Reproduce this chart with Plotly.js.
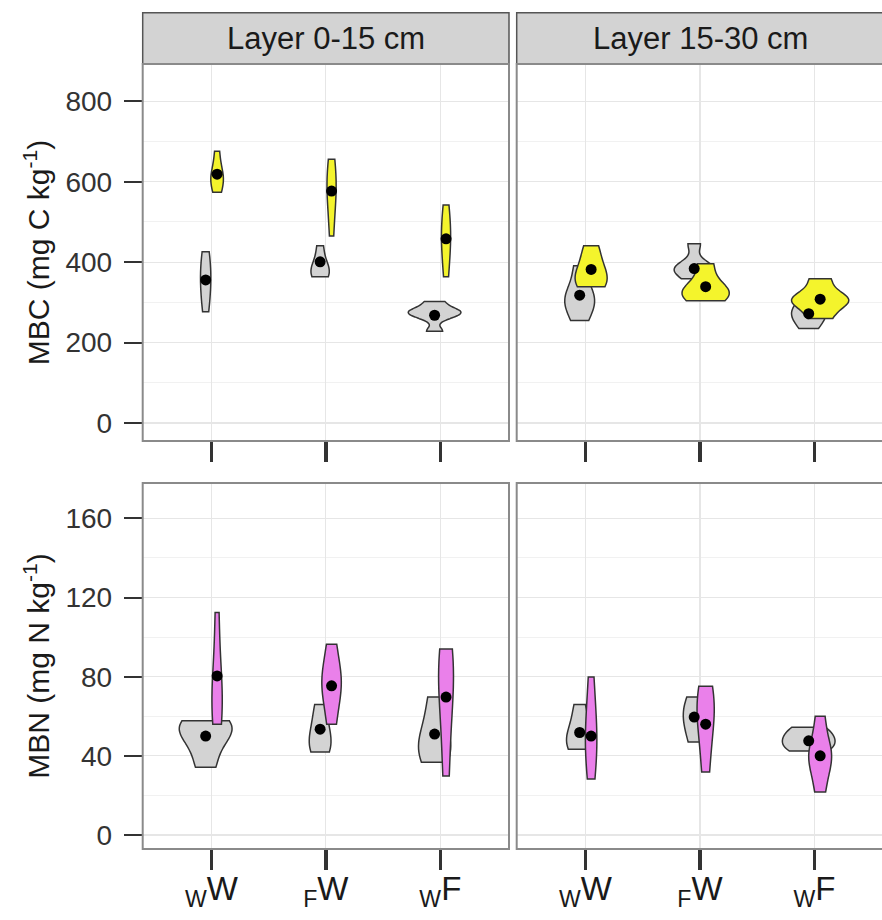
<!DOCTYPE html>
<html><head><meta charset="utf-8">
<script src="https://cdn.plot.ly/plotly-3.0.1.min.js"></script>
<style>html,body{margin:0;padding:0;background:#fff}#chart{width:882px;height:920px}</style>
</head><body><div id="chart"></div>
<script>
// ---- data ----
const categories = ['wW', 'FW', 'wF'];
const tickLabels = ['<sub>W</sub>W', '<sub>F</sub>W', '<sub>W</sub>F'];
const layers = ['Layer 0-15 cm', 'Layer 15-30 cm'];
const mbcTicks = [0, 200, 400, 600, 800];
const mbnTicks = [0, 40, 80, 120, 160];

// MBC (mg C kg-1) observations, per category (wW, FW, wF)
const mbcL1Grey   = [[277, 325, 355, 390, 426], [364, 370, 380, 400, 441], [228, 262, 272, 277, 282, 302]];
const mbcL1Yellow = [[574, 598, 612, 628, 676], [465, 545, 580, 612, 656], [364, 425, 462, 490, 542]];
const mbcL2Grey   = [[255, 296, 306, 330, 391], [359, 378, 386, 392, 446], [235, 258, 270, 284, 302]];
const mbcL2Yellow = [[339, 352, 365, 400, 441], [304, 318, 326, 346, 396], [260, 298, 306, 314, 359]];
// MBN (mg N kg-1) observations
const mbnL1Grey    = [[34.2, 46, 53.5, 55.5, 57.7], [42, 45, 49, 57, 66], [36.8, 42, 46, 55, 69.7]];
const mbnL1Magenta = [[56, 63, 71, 84, 112.5], [56, 71, 77, 82, 96.4], [29.8, 58, 78, 85, 94]];
const mbnL2Grey    = [[43.4, 46, 49, 56, 66], [47, 55, 59.5, 64, 69.7], [42.4, 45, 48, 51, 54.5]];
const mbnL2Magenta = [[28.3, 42, 50, 60, 79.8], [31.8, 50, 61, 68, 75.2], [21.7, 36, 40, 44, 60]];

// means (black dots)
const mbcL1GreyMean = [356, 401, 268];
const mbcL1YellowMean = [619, 577, 458];
const mbcL2GreyMean = [318, 384, 272];
const mbcL2YellowMean = [382, 339, 308];
const mbnL1GreyMean = [50, 53.5, 51];
const mbnL1MagentaMean = [80.4, 75.4, 69.7];
const mbnL2GreyMean = [51.8, 59.6, 47.6];
const mbnL2MagentaMean = [50, 56, 40];

// ---- styles ----
const GREY = '#d3d3d3', YELLOW = '#f4f42c', MAGENTA = '#ea80ea', OUTLINE = '#333333';
const DODGE = 0.05;
const panels = [
  {xa: 'x',  ya: 'y',  g: mbcL1Grey, c: mbcL1Yellow, gm: mbcL1GreyMean, cm: mbcL1YellowMean, col: YELLOW,
   gw: [0.09, 0.16, 0.46], cw: [0.11, 0.08, 0.08]},
  {xa: 'x2', ya: 'y2', g: mbcL2Grey, c: mbcL2Yellow, gm: mbcL2GreyMean, cm: mbcL2YellowMean, col: YELLOW,
   gw: [0.26, 0.35, 0.30], cw: [0.28, 0.41, 0.50]},
  {xa: 'x3', ya: 'y3', g: mbnL1Grey, c: mbnL1Magenta, gm: mbnL1GreyMean, cm: mbnL1MagentaMean, col: MAGENTA,
   gw: [0.46, 0.19, 0.28], cw: [0.09, 0.17, 0.13]},
  {xa: 'x4', ya: 'y4', g: mbnL2Grey, c: mbnL2Magenta, gm: mbnL2GreyMean, cm: mbnL2MagentaMean, col: MAGENTA,
   gw: [0.23, 0.19, 0.46], cw: [0.10, 0.15, 0.20]}
];

const traces = [];
const dots = [];
panels.forEach(p => {
  categories.forEach((cat, i) => {
    traces.push({type: 'violin', xaxis: p.xa, yaxis: p.ya, x0: i - DODGE, y: p.g[i], name: cat,
      width: p.gw[i], scalemode: 'width', spanmode: 'hard', points: false,
      box: {visible: false}, meanline: {visible: false},
      fillcolor: GREY, line: {color: OUTLINE, width: 1.5}, opacity: 1, showlegend: false, hoverinfo: 'skip'});
  });
  categories.forEach((cat, i) => {
    traces.push({type: 'violin', xaxis: p.xa, yaxis: p.ya, x0: i + DODGE, y: p.c[i], name: cat,
      width: p.cw[i], scalemode: 'width', spanmode: 'hard', points: false,
      box: {visible: false}, meanline: {visible: false},
      fillcolor: p.col, line: {color: OUTLINE, width: 1.5}, opacity: 1, showlegend: false, hoverinfo: 'skip'});
  });
  dots.push({type: 'scatter', mode: 'markers', xaxis: p.xa, yaxis: p.ya,
    x: categories.map((c, i) => i - DODGE), y: p.gm, marker: {color: '#000', size: 11}, showlegend: false, hoverinfo: 'skip'});
  dots.push({type: 'scatter', mode: 'markers', xaxis: p.xa, yaxis: p.ya,
    x: categories.map((c, i) => i + DODGE), y: p.cm, marker: {color: '#000', size: 11}, showlegend: false, hoverinfo: 'skip'});
});

const W = 882, H = 920;
const px = v => v / W, py = v => 1 - v / H;
const xL = [px(142.7), px(509)], xR = [px(516.7), 1];
const yT = [py(441), py(64)], yB = [py(849), py(483)];
const FONT = 'Liberation Sans, Arial, sans-serif';

function xaxis(dom, anchor, rng, labels) {
  return {domain: dom, anchor: anchor, range: rng, tickvals: [0, 1, 2], ticktext: tickLabels,
    showticklabels: labels, ticks: 'outside', ticklen: 20, tickwidth: 3.5, tickcolor: '#333',
    ticklabelstandoff: -10,
    tickfont: {size: 33, color: '#1a1a1a', family: FONT},
    showgrid: true, gridcolor: '#e6e6e6', gridwidth: 1.2, zeroline: false, showline: false, fixedrange: true};
}
function yaxis(dom, anchor, rng, ticks, minorStep, labels, title) {
  return {domain: dom, anchor: anchor, range: rng, tickvals: ticks, showticklabels: labels,
    ticks: labels ? 'outside' : '', ticklen: 18, tickwidth: 2, tickcolor: '#333', ticklabelstandoff: 6,
    tickfont: {size: 28, color: '#333', family: FONT},
    showgrid: true, gridcolor: '#e6e6e6', gridwidth: 1.2, zeroline: false, showline: false,
    minor: {tickvals: ticks.slice(0, -1).map((t, i) => (t + ticks[i + 1]) / 2).concat([ticks[ticks.length - 1] + minorStep]), showgrid: true, gridcolor: '#f1f1f1', gridwidth: 1, ticks: ''},
    title: title ? {text: title, font: {size: 30, color: '#1a1a1a', family: FONT}, standoff: 6} : undefined,
    fixedrange: true};
}

const layout = {
  width: W, height: H, margin: {l: 0, r: 0, t: 0, b: 0},
  paper_bgcolor: '#fff', plot_bgcolor: '#fff',
  font: {family: FONT, color: '#1a1a1a'},
  violinmode: 'overlay', violingap: 0, showlegend: false,
  xaxis: xaxis(xL, 'y', [-0.6, 2.6], false),
  xaxis2: xaxis(xR, 'y2', [-0.6, 2.59], false),
  xaxis3: xaxis(xL, 'y3', [-0.6, 2.6], true),
  xaxis4: xaxis(xR, 'y4', [-0.6, 2.59], true),
  yaxis: yaxis(yT, 'x', [-44.8, 893], mbcTicks, 100, true, 'MBC (mg C kg<sup>-1</sup>)'),
  yaxis2: yaxis(yT, 'x2', [-44.8, 893], mbcTicks, 100, false, null),
  yaxis3: yaxis(yB, 'x3', [-7.07, 177.9], mbnTicks, 20, true, 'MBN (mg N kg<sup>-1</sup>)'),
  yaxis4: yaxis(yB, 'x4', [-7.07, 177.9], mbnTicks, 20, false, null),
  shapes: [
    // strips
    {type: 'rect', xref: 'paper', yref: 'paper', x0: xL[0], x1: xL[1], y0: yT[1], y1: py(12.7), fillcolor: '#d3d3d3', line: {color: '#555', width: 1.5}},
    {type: 'rect', xref: 'paper', yref: 'paper', x0: xR[0], x1: 1.01, y0: yT[1], y1: py(12.7), fillcolor: '#d3d3d3', line: {color: '#555', width: 1.5}},
    // panel borders
    {type: 'rect', xref: 'paper', yref: 'paper', x0: xL[0], x1: xL[1], y0: yT[0], y1: yT[1], line: {color: '#8a8a8a', width: 2}, layer: 'above'},
    {type: 'rect', xref: 'paper', yref: 'paper', x0: xR[0], x1: 1.01, y0: yT[0], y1: yT[1], line: {color: '#8a8a8a', width: 2}, layer: 'above'},
    {type: 'rect', xref: 'paper', yref: 'paper', x0: xL[0], x1: xL[1], y0: yB[0], y1: yB[1], line: {color: '#8a8a8a', width: 2}, layer: 'above'},
    {type: 'rect', xref: 'paper', yref: 'paper', x0: xR[0], x1: 1.01, y0: yB[0], y1: yB[1], line: {color: '#8a8a8a', width: 2}, layer: 'above'}
  ],
  annotations: [
    {text: layers[0], xref: 'paper', yref: 'paper', x: (xL[0] + xL[1]) / 2, y: py(38.4), showarrow: false,
     font: {size: 31, color: '#1a1a1a', family: FONT}, xanchor: 'center', yanchor: 'middle'},
    {text: layers[1], xref: 'paper', yref: 'paper', x: px(700), y: py(38.4), showarrow: false,
     font: {size: 31, color: '#1a1a1a', family: FONT}, xanchor: 'center', yanchor: 'middle'}
  ]
};

Plotly.newPlot('chart', traces.concat(dots), layout, {displayModeBar: false, staticPlot: true});
</script></body></html>
